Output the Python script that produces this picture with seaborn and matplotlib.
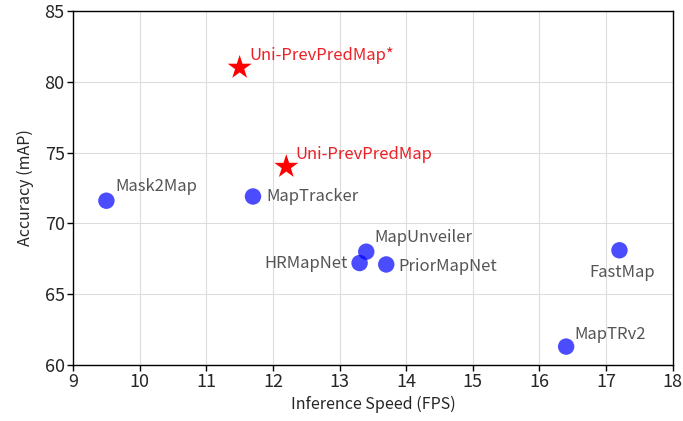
import pandas as pd
import matplotlib
matplotlib.use("Agg")
import matplotlib.pyplot as plt
import seaborn as sns

# data
methods = ["Mask2Map", "MapTracker", "MapUnveiler", "HRMapNet", "PriorMapNet", "FastMap", "MapTRv2"]
fps = [9.5, 11.7, 13.4, 13.3, 13.7, 17.2, 16.4]
acc = [71.6, 71.9, 68.0, 67.2, 67.1, 68.1, 61.3]

ours = ["Uni-PrevPredMap*", "Uni-PrevPredMap"]
ours_fps = [11.5, 12.2]
ours_acc = [81.0, 74.0]

x_ticks = [9, 10, 11, 12, 13, 14, 15, 16, 17, 18]
y_ticks = [60, 65, 70, 75, 80, 85]

df = pd.DataFrame({"Method": methods, "FPS": fps, "mAP": acc})
df_ours = pd.DataFrame({"Method": ours, "FPS": ours_fps, "mAP": ours_acc})

sns.set_style("whitegrid")
plt.rcParams['font.family'] = ['Noto Sans CJK SC', 'DejaVu Sans']

fig, ax = plt.subplots(figsize=(6.83, 4.21), dpi=100)
fig.subplots_adjust(left=0.107, right=0.985, top=0.974, bottom=0.133)

sns.scatterplot(data=df, x="FPS", y="mAP", ax=ax, color="blue", alpha=0.7,
                s=140, edgecolor="none", zorder=3)
sns.scatterplot(data=df_ours, x="FPS", y="mAP", ax=ax, color="red", marker="*",
                s=330, edgecolor="none", zorder=3)

# label offsets in pixels (dx, dy, ha)
offsets = {
    "Mask2Map": (9, 14, "left"),
    "MapTracker": (13, 0, "left"),
    "MapUnveiler": (8, 14, "left"),
    "HRMapNet": (-12, 0, "right"),
    "PriorMapNet": (12, -2, "left"),
    "FastMap": (3, -22, "center"),
    "MapTRv2": (8, 12, "left"),
    "Uni-PrevPredMap*": (10, 12, "left"),
    "Uni-PrevPredMap": (9, 12, "left"),
}

for _, r in df.iterrows():
    dx, dy, ha = offsets[r["Method"]]
    ax.annotate(r["Method"], (r["FPS"], r["mAP"]), xytext=(dx, dy),
                textcoords="offset pixels", ha=ha, va="center",
                fontsize=12, color="#555555")
for _, r in df_ours.iterrows():
    dx, dy, ha = offsets[r["Method"]]
    ax.annotate(r["Method"], (r["FPS"], r["mAP"]), xytext=(dx, dy),
                textcoords="offset pixels", ha=ha, va="center",
                fontsize=12, color="#ec2127")

ax.set_xlim(9, 18)
ax.set_ylim(60, 85)
ax.set_xticks(x_ticks)
ax.set_yticks(y_ticks)
ax.tick_params(axis="both", labelsize=13, length=4, width=1, color="black",
               left=True, bottom=True, pad=2)
ax.set_xlabel("Inference Speed (FPS)", fontsize=11.5, labelpad=3)
ax.set_ylabel("Accuracy (mAP)", fontsize=11.5, labelpad=8)
ax.grid(True, color="#dddddd", linewidth=0.8)
for sp in ax.spines.values():
    sp.set_color("black")
    sp.set_linewidth(1)

plt.savefig("out.png", dpi=100)
